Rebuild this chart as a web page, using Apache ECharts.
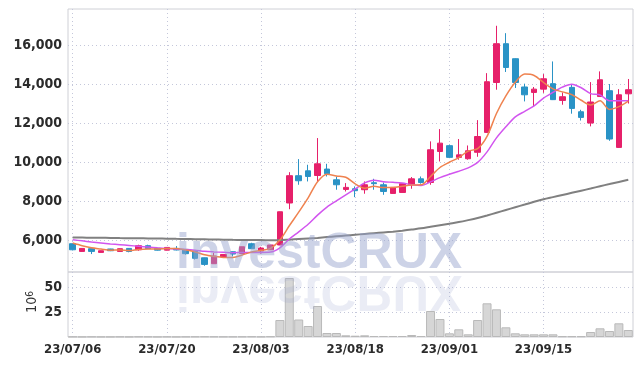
<!DOCTYPE html>
<html>
<head>
<meta charset="utf-8">
<script src="https://cdn.jsdelivr.net/npm/echarts@6/dist/echarts.min.js"></script>
<style>
html, body { margin: 0; padding: 0; background: #fff; }
#container { width: 642px; height: 366px; }
</style>
</head>
<body>
<div id="container"></div>
<script>
const dates = ['23/07/06','23/07/07','23/07/10','23/07/11','23/07/12','23/07/13','23/07/14','23/07/17','23/07/18','23/07/19',
    '23/07/20','23/07/21','23/07/24','23/07/25','23/07/26','23/07/27','23/07/28','23/07/31','23/08/01','23/08/02',
    '23/08/03','23/08/04','23/08/07','23/08/08','23/08/09','23/08/10','23/08/11','23/08/14','23/08/16','23/08/17',
    '23/08/18','23/08/21','23/08/22','23/08/23','23/08/24','23/08/25','23/08/28','23/08/29','23/08/30','23/08/31',
    '23/09/01','23/09/04','23/09/05','23/09/06','23/09/07','23/09/08','23/09/11','23/09/12','23/09/13','23/09/14',
    '23/09/15','23/09/18','23/09/19','23/09/20','23/09/21','23/09/22','23/09/25','23/09/26','23/09/27','23/10/04'];

const openP = [5810,5415,5555,5365,5540,5415,5570,5500,5710,5570,
    5480,5570,5520,5420,5090,4785,5130,5400,5310,5810,
    5435,5500,5745,7900,9300,9550,9310,9640,9090,8595,
    8630,8580,8940,8835,8390,8440,8835,9140,8950,10540,
    10840,10240,10170,10500,11520,14080,16070,15300,13850,13570,
    13740,14020,13160,13830,12580,12000,13360,13660,10750,13500];
const closeP = [5500,5570,5415,5450,5450,5555,5415,5710,5555,5480,
    5620,5490,5300,5060,4750,5180,5260,5280,5655,5555,
    5590,5745,7450,9300,9040,9260,9910,9400,8835,8700,
    8530,8835,8890,8490,8700,8890,9140,8950,10630,10970,
    10240,10370,10580,11310,14120,16070,14850,14080,13450,13740,
    14270,13200,13350,12750,12290,13080,14220,11180,13450,13710];
const lowP = [5470,5400,5280,5360,5430,5410,5370,5450,5540,5460,
    5470,5470,5250,5000,4680,4780,5120,5160,5300,5540,
    5300,5490,5740,7580,8835,9005,9005,9260,8580,8490,
    8200,8375,8580,8320,8380,8430,8630,8890,8835,10030,
    10200,10120,10120,10270,11500,13710,14620,13800,13110,12840,
    13550,13180,12940,12480,12130,11830,13350,11090,10730,13000];
const highP = [5830,5580,5560,5460,5550,5565,5580,5760,5760,5580,
    5630,5690,5530,5430,5100,5340,5270,5410,5660,5860,
    5650,5750,7460,9480,10150,9860,11230,9910,9260,8920,
    8750,9005,9140,8950,8720,8900,9230,9260,11060,11690,
    10900,11180,10850,12150,14560,16990,16610,15320,14020,13850,
    14510,15160,13570,13970,12680,14100,14650,14000,13740,14260];

// volume, millions of shares
const volume = [0.3,0.2,0.3,0.2,0.2,0.3,0.2,0.4,0.3,0.2,
    0.3,0.2,0.3,0.4,0.5,0.4,0.3,0.3,0.4,0.5,
    0.3,0.6,17,59,17.5,11,31,4,4,1.7,
    1.3,1.7,1,1,1,1,2,1,26,18,
    3.7,7.7,2.7,17,33.7,27.7,9.7,3.7,2.7,2.7,
    2.7,2.7,0.7,0.7,0.7,5,8.7,6,13.7,7];

const ma5 = [5845,5710,5600,5540,5480,5490,5460,5520,5540,5540,
    5560,5570,5490,5390,5240,5160,5110,5110,5230,5390,
    5470,5570,6000,6730,7430,8160,8990,9380,9290,9220,
    8880,8660,8760,8690,8690,8760,8820,8830,9260,9720,
    9990,10230,10560,10690,11320,12490,13390,14090,14510,14440,
    14080,13750,13600,13460,13170,12930,13140,12700,12840,13130];
const ma10 = [6010,5960,5900,5850,5800,5760,5720,5680,5640,5600,
    5570,5540,5520,5480,5420,5390,5370,5350,5360,5365,
    5365,5380,5600,6050,6420,6810,7280,7690,8010,8320,
    8620,8930,9070,8990,8960,8920,8840,8800,8980,9200,
    9370,9530,9700,9980,10520,11240,11810,12320,12600,12880,
    13280,13570,13840,13990,13810,13510,13440,13150,13150,13150];
const ma120 = [6130,6125,6120,6115,6110,6100,6095,6090,6080,6075,
    6070,6060,6055,6045,6035,6025,6020,6010,6005,6000,
    5995,5990,5990,6020,6050,6080,6110,6150,6190,6230,
    6270,6310,6350,6390,6430,6480,6540,6600,6680,6760,
    6840,6920,7020,7130,7260,7400,7540,7680,7820,7960,
    8090,8200,8310,8420,8530,8640,8760,8870,8980,9090];

const priceTicks = [6000, 8000, 10000, 12000, 14000, 16000];
const volTicks = [25, 50];

const labelFont = '"Liberation Sans Narrow", "DejaVu Sans Condensed", sans-serif';
const dotted = { show: true, lineStyle: { color: '#c4c7da', type: [1, 3], width: 1 } };
const axisText = { fontFamily: labelFont, fontSize: 14, fontWeight: 'bold', color: '#2b2b2b' };

let candles = [];
for (let i = 0; i < dates.length; i++) {
    candles.push([openP[i], closeP[i], lowP[i], highP[i]]);
}

let myChart = echarts.init(document.getElementById('container'));

let option = {
    animation: false,
    backgroundColor: '#fff',
    grid: [
        { left: 68, right: 9, top: 9, height: 263, show: true, borderColor: '#cfd0d6', borderWidth: 1 },
        { left: 68, right: 9, top: 272, height: 65, show: true, borderColor: '#cfd0d6', borderWidth: 1 }
    ],
    xAxis: [
        {
            type: 'category', gridIndex: 0, data: dates, boundaryGap: true,
            axisLine: { show: false }, axisTick: { show: false }, axisLabel: { show: false },
            splitLine: Object.assign({ interval: 9, alignWithLabel: true }, dotted)
        },
        {
            type: 'category', gridIndex: 1, data: dates, boundaryGap: true,
            axisLine: { show: false }, axisTick: { show: false },
            axisLabel: Object.assign({}, axisText, { interval: 9, margin: 6, fontSize: 13 }),
            splitLine: Object.assign({ interval: 9, alignWithLabel: true }, dotted)
        }
    ],
    yAxis: [
        {
            type: 'value', gridIndex: 0, min: 4360, max: 17850,
            axisLine: { show: false },
            axisTick: { show: false, customValues: priceTicks },
            axisLabel: Object.assign({
                customValues: priceTicks, margin: 6,
                formatter: v => v.toLocaleString('en-US')
            }, axisText),
            splitLine: dotted
        },
        {
            type: 'value', gridIndex: 1, min: 0, max: 65,
            axisLine: { show: false },
            axisTick: { show: false, customValues: volTicks },
            axisLabel: Object.assign({ customValues: volTicks, margin: 6 }, axisText),
            splitLine: dotted
        }
    ],
    graphic: [
        {
            type: 'text', x: 176, y: 272, z: 100, silent: true,
            style: {
                text: 'investCRUX', x: 0, y: -18,
                font: 'bold 50px "Liberation Sans", Arial, sans-serif',
                fill: 'rgba(150,162,205,0.48)', textAlign: 'left', textVerticalAlign: 'middle'
            }
        },
        {
            type: 'text', x: 176, y: 272, scaleY: -1, z: 100, silent: true,
            style: {
                text: 'investCRUX', x: 0, y: -18,
                font: 'bold 50px "Liberation Sans", Arial, sans-serif',
                fill: 'rgba(150,162,205,0.2)', textAlign: 'left', textVerticalAlign: 'middle'
            }
        },
        {
            type: 'text', x: 32, y: 302, rotation: Math.PI / 2, silent: true,
            style: {
                text: '{a|10}{b|6}', textAlign: 'center', textVerticalAlign: 'middle',
                rich: {
                    a: { fontFamily: labelFont, fontSize: 14, fill: '#333', color: '#333' },
                    b: { fontFamily: labelFont, fontSize: 10, fill: '#333', color: '#333', verticalAlign: 'top' }
                }
            }
        }
    ],
    series: [
        {
            type: 'candlestick', xAxisIndex: 0, yAxisIndex: 0, data: candles, barWidth: 6,
            itemStyle: {
                color: '#e6206a', borderColor: '#e6206a',
                color0: '#2a93c6', borderColor0: '#2a93c6', borderWidth: 1
            }
        },
        {
            type: 'line', xAxisIndex: 0, yAxisIndex: 0, data: ma120, showSymbol: false, smooth: 0.3,
            lineStyle: { color: '#808080', width: 2 }
        },
        {
            type: 'line', xAxisIndex: 0, yAxisIndex: 0, data: ma10, showSymbol: false, smooth: 0.3,
            lineStyle: { color: '#d255ef', width: 1.5 }
        },
        {
            type: 'line', xAxisIndex: 0, yAxisIndex: 0, data: ma5, showSymbol: false, smooth: 0.3,
            lineStyle: { color: '#ef824f', width: 1.5 }
        },
        {
            type: 'bar', xAxisIndex: 1, yAxisIndex: 1, data: volume, barWidth: 9,
            itemStyle: { color: '#d6d6d6', borderColor: '#b9b9b9', borderWidth: 1 }
        }
    ]
};
myChart.setOption(option);
</script>
</body>
</html>
